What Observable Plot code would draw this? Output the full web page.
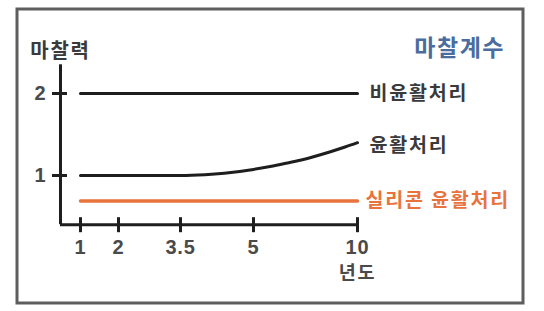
<!DOCTYPE html>
<html>
<head>
<meta charset="utf-8">
<script src="https://cdn.jsdelivr.net/npm/d3@7"></script>
<script src="https://cdn.jsdelivr.net/npm/@observablehq/plot@0.6"></script>
<style>
  html, body { margin: 0; padding: 0; background: #fff; }
  #chart { width: 544px; height: 311px; }
</style>
</head>
<body>
<div id="chart"></div>
<script>
// ---- data ----
const xTicks = [1, 2, 3.5, 5, 10];
const xTickLabels = ["1", "2", "3.5", "5", "10"];
const yTicks = [1, 2];
const yTickLabels = ["1", "2"];

const seriesNames = ["비윤활처리", "윤활처리", "실리콘 윤활처리"];
const unlubX = [1, 10];
const unlubY = [2, 2];
const lubX = [1, 2, 3.5, 4, 4.4, 5, 5.8, 6.5, 7.3, 8.7, 9.4, 10];
const lubY = [1, 1, 1, 1.01, 1.028, 1.074, 1.11, 1.146, 1.19, 1.29, 1.347, 1.40];
const siliconX = [1, 10];
const siliconY = [0.69, 0.69];

const title = "마찰계수";
const yLabel = "마찰력";
const xLabel = "년도";

// ---- build tables ----
const unlub = unlubX.map((x, i) => ({x, y: unlubY[i]}));
const lub = lubX.map((x, i) => ({x, y: lubY[i]}));
const silicon = siliconX.map((x, i) => ({x, y: siliconY[i]}));

const xOrigin = 0.5;   // where the y axis crosses
const yBase = 0.4;     // where the x axis crosses
const yTop = 2.35;     // top of y axis

const font = "'Noto Sans CJK KR', 'Noto Sans', sans-serif";
const numFont = "'Liberation Sans', Arial, sans-serif";
const ink = "#1e1e1e";
const textCol = "#3a3a3a";
const numCol = "#4a4a4a";
const orange = "#e8733d";
const blue = "#4a6c9e";

const chart = Plot.plot({
  width: 544,
  height: 311,
  marginTop: 8.5,
  marginLeft: 16.5,
  marginRight: 21.5,
  marginBottom: 8.5,
  style: {fontFamily: font, background: "#fff", overflow: "visible"},
  x: {type: "linear", domain: [xOrigin, 1, 2, 3.5, 5, 10], range: [60, 80, 118, 180, 253, 357], axis: null},
  y: {type: "linear", domain: [1, 2], range: [175, 93], axis: null},
  marks: [
    Plot.frame({stroke: "#5e5e5e", strokeWidth: 3}),
    // axes lines
    Plot.ruleX([xOrigin], {y1: yBase, y2: yTop, stroke: ink, strokeWidth: 3}),
    Plot.ruleY([yBase], {x1: xOrigin, x2: 10, stroke: ink, strokeWidth: 3}),
    // ticks
    Plot.ruleX(xTicks, {x: d => d, y1: yBase, y2: yBase, insetTop: -7, insetBottom: -8, stroke: ink, strokeWidth: 3}),
    Plot.ruleY(yTicks, {y: d => d, x1: xOrigin, x2: xOrigin, insetLeft: -8, insetRight: -7, stroke: ink, strokeWidth: 3}),
    // tick labels
    Plot.text(xTicks, {x: d => d, y: yBase, dy: 23, text: (d, i) => xTickLabels[i], fill: numCol, fontSize: 20, fontWeight: 700, fontFamily: numFont, textAnchor: "middle"}),
    Plot.text(yTicks, {x: xOrigin, y: d => d, dx: -20, text: (d, i) => yTickLabels[i], fill: numCol, fontSize: 20, fontWeight: 700, fontFamily: numFont, textAnchor: "middle"}),
    Plot.text([xLabel], {x: 10, y: yBase, dy: 48, text: d => d, fill: numCol, fontSize: 18.5, fontWeight: 700, textAnchor: "middle"}),
    Plot.text([yLabel], {x: xOrigin, y: yTop, dy: -13, text: d => d, fill: textCol, fontSize: 20, fontWeight: 700, textAnchor: "middle"}),
    // series
    Plot.line(unlub, {x: "x", y: "y", stroke: ink, strokeWidth: 3}),
    Plot.line(lub, {x: "x", y: "y", stroke: ink, strokeWidth: 3, curve: "monotone-x"}),
    Plot.line(silicon, {x: "x", y: "y", stroke: orange, strokeWidth: 3.5}),
    // series labels
    Plot.text([seriesNames[0]], {x: 10, y: 2, dx: 12, dy: 0, text: d => d, fill: textCol, fontSize: 19.5, fontWeight: 700, textAnchor: "start"}),
    Plot.text([seriesNames[1]], {x: 10, y: lubY[lubY.length - 1], dx: 12, dy: 3, text: d => d, fill: textCol, fontSize: 19.5, fontWeight: 700, textAnchor: "start"}),
    Plot.text([seriesNames[2]], {x: 10, y: siliconY[0], dx: 8, dy: 0, text: d => d, fill: orange, fontSize: 19.5, fontWeight: 700, textAnchor: "start"}),
    // title
    Plot.text([title], {frameAnchor: "top-right", dx: -18, dy: 31, text: d => d, fill: blue, fontSize: 23, fontWeight: 700, textAnchor: "end"})
  ]
});
// widen the lettering a little to match the reference's broad gothic face
chart.querySelectorAll("text").forEach(t => {
  const s = t.textContent;
  if (/[가-힣]/.test(s)) t.setAttribute("letter-spacing", s === title ? "1.5" : "1.8");
  else t.setAttribute("letter-spacing", "0.8");
});
document.getElementById("chart").appendChild(chart);
</script>
</body>
</html>
